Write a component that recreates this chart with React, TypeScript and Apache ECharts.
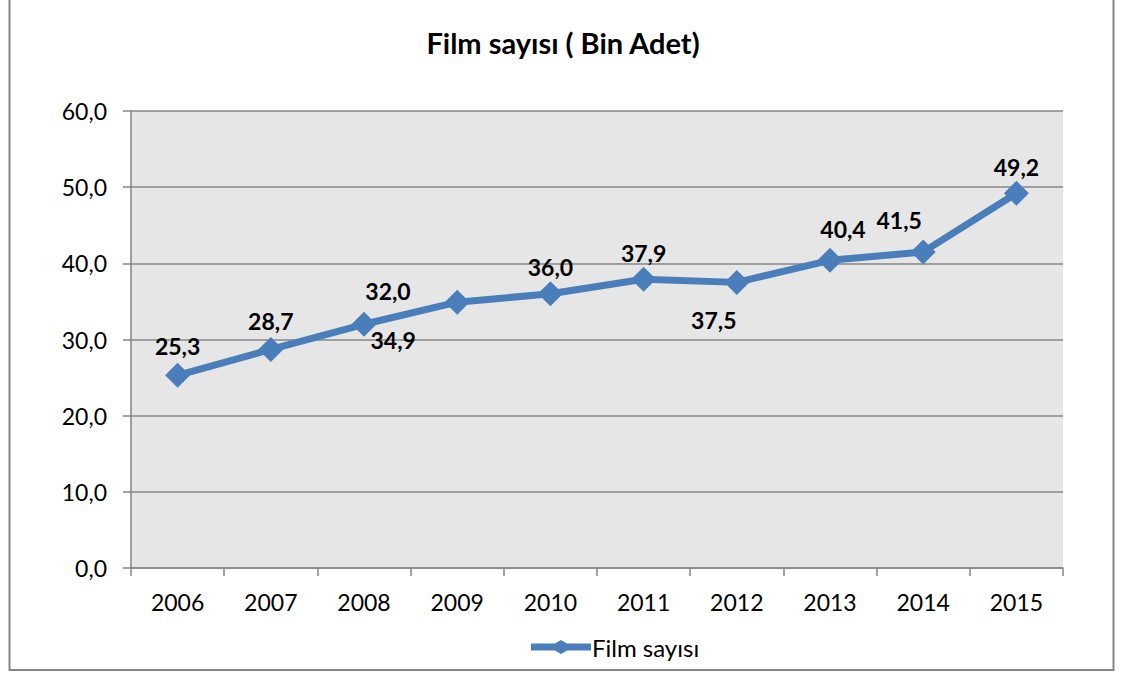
import React, { useEffect, useRef } from "react";
import * as echarts from "echarts";

const title = "Film sayısı ( Bin Adet)";
const seriesName = "Film sayısı";
const years = ["2006", "2007", "2008", "2009", "2010", "2011", "2012", "2013", "2014", "2015"];
const filmCounts = [25.3, 28.7, 32.0, 34.9, 36.0, 37.9, 37.5, 40.4, 41.5, 49.2];
const yTicks = { min: 0, max: 60, interval: 10 };

// label placement style (layout only)
const labelPlacement: { pos: "top" | "bottom"; dx: number; dy: number }[] = [
  { pos: "top", dx: 0, dy: 1 },
  { pos: "top", dx: 0, dy: 2 },
  { pos: "top", dx: 24, dy: -3 },
  { pos: "bottom", dx: -64, dy: 8 },
  { pos: "top", dx: 0, dy: 3 },
  { pos: "top", dx: 0, dy: 4 },
  { pos: "bottom", dx: -23, dy: 8 },
  { pos: "top", dx: 13, dy: -1 },
  { pos: "top", dx: -24, dy: -2 },
  { pos: "top", dx: 0, dy: 4 },
];

const FONT = "Lato, 'Open Sans', sans-serif";
const BLUE = "#4a7ebb";
const LEGEND_ICON =
  "path://M0,3.5 L24,3.5 L30,0 L36,3.5 L60,3.5 L60,10.5 L36,10.5 L30,14 L24,10.5 L0,10.5 Z";

export default function App() {
  const ref = useRef<HTMLDivElement>(null);
  useEffect(() => {
    if (!ref.current) return;
    const chart = echarts.init(ref.current, null, { renderer: "svg" });
    const fmt = (v: number) => v.toFixed(1).replace(".", ",");
    chart.setOption({
      animation: false,
      backgroundColor: "#ffffff",
      title: {
        text: title,
        left: "center",
        top: 23,
        textStyle: { fontFamily: FONT, fontWeight: "bold", fontSize: 29, color: "#000" },
      },
      graphic: [
        {
          type: "rect",
          shape: { x: 9.5, y: -5, width: 1104, height: 675 },
          style: { fill: "none", stroke: "#878787", lineWidth: 2 },
          silent: true,
        },
      ],
      legend: {
        top: 630,
        left: 526,
        itemWidth: 60,
        itemHeight: 14,
        itemGap: 0,
        textStyle: { fontFamily: FONT, fontSize: 24, color: "#000", padding: [0, 0, 0, -4] },
        data: [{ name: seriesName, icon: LEGEND_ICON }],
      },
      grid: {
        left: 131,
        right: 1126 - 1063,
        top: 111,
        bottom: 675 - 568,
        containLabel: false,
        show: true,
        backgroundColor: "#e6e6e6",
        borderWidth: 0,
      },
      xAxis: {
        type: "category",
        data: years,
        boundaryGap: true,
        axisLine: { lineStyle: { color: "#868686", width: 1.5 } },
        axisTick: { show: true, length: 8, inside: false, lineStyle: { color: "#868686", width: 1.5 } },
        axisLabel: { fontFamily: FONT, fontSize: 23, color: "#000", margin: 22 },
        splitLine: { show: false },
      },
      yAxis: {
        type: "value",
        min: yTicks.min,
        max: yTicks.max,
        interval: yTicks.interval,
        axisLine: { show: true, lineStyle: { color: "#868686", width: 1.5 } },
        axisTick: { show: true, length: 8, lineStyle: { color: "#868686", width: 1.5 } },
        axisLabel: { fontFamily: FONT, fontSize: 23, color: "#000", margin: 24, formatter: (v: number) => fmt(v) },
        splitLine: { show: true, lineStyle: { color: "#868686", width: 1.5 } },
      },
      series: [
        {
          name: seriesName,
          type: "line",
          data: filmCounts.map((v, i) => ({
            value: v,
            label: {
              position: labelPlacement[i].pos,
              offset: [labelPlacement[i].dx, labelPlacement[i].dy],
            },
          })),
          symbol: "diamond",
          symbolSize: 25,
          lineStyle: { color: BLUE, width: 7 },
          itemStyle: { color: BLUE },
          label: {
            show: true,
            distance: 6,
            fontFamily: FONT,
            fontWeight: "bold",
            fontSize: 23,
            color: "#000",
            formatter: (p: any) => fmt(p.value),
          },
        },
      ],
    });
    return () => chart.dispose();
  }, []);
  return (
    <div
      ref={ref}
      style={{ position: "fixed", left: 0, top: 0, width: 1126, height: 675, background: "#fff" }}
    />
  );
}
